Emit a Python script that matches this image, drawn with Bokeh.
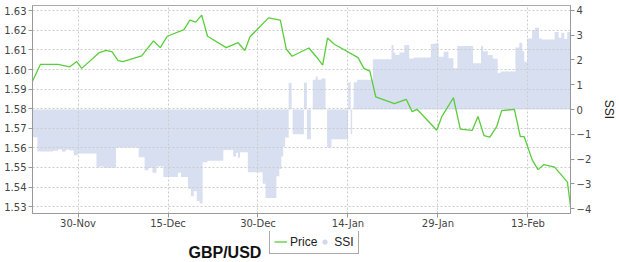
import pandas as pd
from bokeh.plotting import figure
from bokeh.layouts import column
from bokeh.models import (Range1d, LinearAxis, FixedTicker, DatetimeTickFormatter,
                          Legend, LegendItem, Label, NumeralTickFormatter)
from bokeh.embed import file_html
from bokeh.resources import INLINE

BASE = "2009-11-30"

# Price (GBP/USD), days after 30-Nov-2009
price_day = [-7.59, -6.28, -3.33, -1.36, -0.21, 0.61, 3.56, 4.71, 5.69, 6.67, 7.49,
             10.61, 12.58, 13.72, 14.87, 17.66, 18.64, 19.62, 20.61, 21.59, 24.71,
             26.68, 27.82, 28.64, 31.76, 33.73, 34.71, 35.69, 38.48, 39.79, 40.78,
             41.59, 42.74, 46.68, 47.66, 48.65, 49.63, 52.75, 54.71, 55.70, 56.52,
             59.80, 60.62, 62.58, 63.73, 65.70, 66.68, 67.67, 68.65, 69.80, 70.62,
             72.75, 73.73, 74.39, 75.70, 76.68, 77.66, 79.46, 81.59, 82.10]
price_val = [1.5941, 1.6026, 1.6026, 1.6014, 1.6041, 1.6006, 1.6087, 1.6098, 1.6090,
             1.6046, 1.6041, 1.6070, 1.6146, 1.6112, 1.6170, 1.6204, 1.6252, 1.6242,
             1.6278, 1.6170, 1.6112, 1.6137, 1.6097, 1.6166, 1.6264, 1.6252, 1.6105,
             1.6068, 1.6110, 1.6063, 1.6022, 1.6161, 1.6129, 1.6061, 1.6006, 1.5992,
             1.5861, 1.5826, 1.5848, 1.5785, 1.5797, 1.5690, 1.5758, 1.5856, 1.5696,
             1.5689, 1.5760, 1.5663, 1.5655, 1.5709, 1.5790, 1.5797, 1.5658, 1.5657,
             1.5540, 1.5489, 1.5515, 1.5502, 1.5425, 1.5302]

# SSI (step series), days after 30-Nov-2009
ssi_day = [-7.59, -6.77, -4.15, -3.33, -2.67, -2.02, -1.36, -0.71, -0.05, 3.07, 3.56,
           4.21, 6.35, 10.11, 11.10, 11.76, 12.41, 13.07, 14.22, 16.68, 17.17, 18.32,
           18.81, 19.30, 19.79, 20.28, 20.77, 21.59, 24.22, 25.86, 26.35, 26.68, 27.00,
           28.31, 30.77, 31.26, 33.07, 33.56, 33.89, 34.21, 34.54, 35.12, 35.61, 35.78,
           37.66, 38.15, 38.81, 39.13, 39.62, 39.95, 40.60, 41.26, 41.52, 42.25, 45.04,
           45.45, 45.70, 45.95, 46.53, 49.15, 52.26, 52.59, 52.92, 53.57, 54.39, 55.21,
           56.03, 58.81, 59.30, 60.12, 60.94, 61.76, 62.58, 63.24, 65.86, 67.18, 67.50,
           68.32, 69.14, 69.96, 70.45, 72.91, 73.57, 74.06, 74.39, 74.88, 75.70, 76.19,
           76.85, 77.34, 79.46, 80.12, 80.57, 81.06, 81.55, 82.10]
ssi_val = [-1.12, -1.70, -1.67, -1.62, -1.70, -1.63, -1.66, -1.85, -1.78, -2.35, -2.30,
           -2.35, -1.53, -1.93, -2.45, -2.35, -2.55, -2.30, -2.73, -2.55, -2.73, -3.20,
           -3.50, -3.30, -3.70, -3.80, -2.13, -2.07, -1.64, -1.90, -1.75, -1.95, -1.73,
           -2.53, -3.00, -3.57, -2.70, -2.40, -1.90, -1.50, -1.13, 1.07, 0.0, -1.00,
           1.08, -1.20, 0.0, 1.20, 1.33, 1.20, 1.25, 0.0, -1.53, -1.20, 1.10,
           -1.00, 0.0, 1.10, 1.20, 2.03, 2.60, 2.30, 2.20, 2.30, 2.60, 2.06,
           2.10, 2.65, 2.67, 2.13, 2.33, 2.07, 1.67, 2.56, 1.87, 2.56, 2.35,
           2.20, 2.05, 1.47, 1.53, 2.50, 2.70, 2.35, 1.93, 2.87, 3.20, 3.30,
           2.87, 2.83, 3.13, 2.90, 3.10, 2.85, 3.13, 3.13]

tick_dates = ["2009-11-30", "2009-12-15", "2009-12-30", "2010-01-14", "2010-01-29", "2010-02-13"]
price_ticks = [1.53, 1.54, 1.55, 1.56, 1.57, 1.58, 1.59, 1.60, 1.61, 1.62, 1.63]
ssi_ticks = [-4, -3, -2, -1, 0, 1, 2, 3, 4]
pair_name = "GBP/USD"
series_names = ["Price", "SSI"]

base = pd.Timestamp(BASE)
px = base + pd.to_timedelta(price_day, unit="D")
sx = base + pd.to_timedelta(ssi_day, unit="D")
tick_ms = [pd.Timestamp(d).timestamp() * 1000 for d in tick_dates]

FONT = "DejaVu Sans"
TXT = "#444444"
AX = "#999999"
GREEN = "#5acd3c"
FILL = "#d8dff0"

p = figure(width=619, height=231, x_axis_type="datetime", output_backend="svg",
           toolbar_location=None, frame_align=False,
           x_range=Range1d(px[0], px[-1]), y_range=Range1d(1.5265, 1.6327),
           min_border_left=32, min_border_right=40, min_border_top=5, min_border_bottom=16,
           background_fill_color="white", border_fill_color="white")
p.outline_line_color = "#aaaaaa"
p.extra_y_ranges = {"ssi": Range1d(-4.2, 4.2)}

p.varea_step(x=sx, y1=0, y2=ssi_val, step_mode="after", y_range_name="ssi",
             fill_color=FILL, level="image")
p.line(px, price_val, line_color=GREEN, line_width=1.3)

xa = p.xaxis[0]
xa.ticker = FixedTicker(ticks=tick_ms)
xa.formatter = DatetimeTickFormatter(days="%d-%b", months="%d-%b", hours="%d-%b")
ya = p.yaxis[0]
ya.ticker = FixedTicker(ticks=price_ticks)
ya.formatter = NumeralTickFormatter(format="0.00")
ra = LinearAxis(y_range_name="ssi", ticker=FixedTicker(ticks=ssi_ticks), axis_label="SSI")
p.add_layout(ra, "right")
for a in (xa, ya, ra):
    a.axis_line_color = AX
    a.major_tick_line_color = AX
    a.major_tick_in = 0
    a.major_tick_out = 4
    a.minor_tick_line_color = None
    a.major_label_text_font = FONT
    a.major_label_text_font_size = "10px"
    a.major_label_text_color = TXT
    a.major_label_standoff = 2
xa.major_label_standoff = 0
ra.axis_label_text_font = "Liberation Sans"
ra.axis_label_text_font_size = "12px"
ra.axis_label_text_font_style = "normal"
ra.axis_label_text_color = "#222222"
ra.axis_label_standoff = 8

for g in (p.xgrid[0], p.ygrid[0]):
    g.grid_line_color = "#cccccc"
    g.grid_line_dash = "2 2"
    g.level = "underlay"

# legend strip below the chart (canvas pixel coordinates, y from bottom)
q = figure(width=619, height=31, output_backend="svg", toolbar_location=None,
           frame_align=False,
           x_range=Range1d(0, 619), y_range=Range1d(0, 31),
           x_axis_location=None, y_axis_location=None,
           min_border=0, min_border_left=0, min_border_right=0,
           min_border_top=0, min_border_bottom=0,
           background_fill_color="white", border_fill_color="white")
q.outline_line_color = None
q.grid.visible = False
# off-screen swatch renderers (used only for the legend glyphs)
lg_line = q.line([-20, -10], [-20, -20], line_color=GREEN, line_width=1.3)
lg_area = q.scatter([-20], [-20], marker="circle", size=7, fill_color="#cfd8ec", line_color=None)

legend = Legend(items=[LegendItem(label=series_names[0], renderers=[lg_line]),
                       LegendItem(label=series_names[1], renderers=[lg_area])],
                orientation="horizontal", location=(269, 8),
                border_line_color="#555555", border_line_width=1,
                background_fill_color="white", padding=4, spacing=1, margin=0,
                glyph_width=13, glyph_height=15, label_height=15, label_standoff=3,
                label_text_font="Liberation Sans", label_text_font_size="12px",
                label_text_color="#222222")
q.add_layout(legend)

title = Label(x=188, y=10.3, text=pair_name,
              text_font="Liberation Sans", text_font_style="bold", text_font_size="16px",
              text_color="#111111", text_baseline="alphabetic")
q.add_layout(title)

layout = column(p, q, spacing=0)
open("out.html", "w").write(file_html(layout, INLINE))
